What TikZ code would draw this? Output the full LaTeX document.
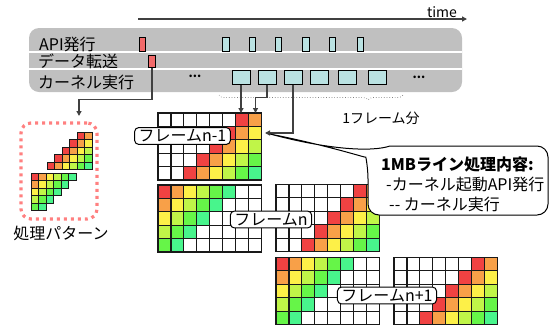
\documentclass[tikz,border=0pt]{standalone}
\usepackage{fontspec}
\setmainfont{Noto Sans CJK JP}
\usetikzlibrary{arrows.meta,decorations.pathreplacing}
\definecolor{c0}{RGB}{240,66,66}
\definecolor{c1}{RGB}{248,160,72}
\definecolor{c2}{RGB}{253,240,72}
\definecolor{c3}{RGB}{192,245,72}
\definecolor{c4}{RGB}{102,245,72}
\definecolor{c5}{RGB}{72,245,140}
\definecolor{tlgray}{RGB}{192,192,192}
\definecolor{kcyan}{RGB}{186,226,226}
\definecolor{kred}{RGB}{242,106,106}
\definecolor{patpink}{RGB}{255,128,128}
\definecolor{lineg}{RGB}{64,64,64}
\def\cw{12.95}
\def\ch{13.4}
\newcommand\biggrid[3]{%
  \foreach \r in {0,...,4}{\foreach \c in {0,...,7}{%
    \pgfmathtruncatemacro\k{\c+\r+#3}%
    \ifnum\k<0 \def\cc{white}\else\ifnum\k>5 \def\cc{white}\else\edef\cc{c\k}\fi\fi
    \filldraw[bigcell, fill=\cc] ({#1+\c*\cw},{#2+\r*\ch}) rectangle ++(\cw,\ch);
  }}%
  \draw[gridouter] (#1,#2) rectangle ++({8*\cw},{5*\ch});
}
\begin{document}
\begin{tikzpicture}[x=1pt,y=-1pt,
  font=\fontsize{16}{19}\selectfont,
  bigcell/.style={draw=black!90, line width=1.1pt},
  gridouter/.style={draw=black!90, line width=1.6pt},
  minicell/.style={draw=black!90, line width=0.9pt},
  rbox/.style={draw=black, line width=1pt, fill=kred, minimum width=6.5pt, minimum height=14pt, inner sep=0pt},
  abox/.style={draw=black, line width=1pt, fill=kcyan, minimum width=6.5pt, minimum height=14pt, inner sep=0pt},
  kbox/.style={draw=black, line width=1pt, fill=kcyan, minimum width=18pt, minimum height=14pt, inner sep=0pt},
  conn/.style={draw=lineg, line width=1.3pt, -{Triangle[length=5pt,width=5pt]}},
  flabel/.style={draw=black, line width=1pt, fill=white, rounded corners=4pt, inner xsep=4pt, inner ysep=2pt},
  rowlbl/.style={anchor=west, inner sep=0pt},
  dotslbl/.style={font=\fontsize{12}{12}\selectfont\bfseries, inner sep=0pt}
]
\useasboundingbox (0,0) rectangle (553,325);

% time arrow
\coordinate (ts) at (138,19);
\coordinate (te) at (467,19);
\draw[draw=lineg, line width=1.2pt, -{Triangle[length=5pt,width=5pt]}] (ts) -- (te);
\node[font=\fontsize{14}{14}\selectfont, inner sep=0pt] (timelbl) at (442,12) {time};

% timeline background
\fill[tlgray, rounded corners=10pt] (29,28) rectangle (462,92);
\draw[white, line width=1.6pt] (29,52) -- (462,52);
\draw[white, line width=1.6pt] (29,69) -- (462,69);

\node[rowlbl] (lapi) at (39,44) {API発行};
\node[rowlbl] (ldata) at (38,61) {データ転送};
\node[rowlbl] (lkern) at (38,82) {カーネル実行};

\node[rbox] (a0) at (142.5,44) {};
\node[rbox, minimum height=12pt] (d0) at (152,61) {};

\node[abox] (a1) at (226,44) {};
\node[abox] (a2) at (252.5,44) {};
\node[abox] (a3) at (278.5,44) {};
\node[abox] (a4) at (306,44) {};
\node[abox] (a5) at (332.5,44) {};
\node[abox] (a6) at (360.5,44) {};

\node[kbox] (k1) at (241,77) {};
\node[kbox] (k2) at (267,77) {};
\node[kbox] (k3) at (293,77) {};
\node[kbox] (k4) at (319.5,77) {};
\node[kbox] (k5) at (347.5,77) {};
\node[kbox] (k6) at (377,77) {};

\node[dotslbl] (dl) at (195,76) {...};
\node[dotslbl] (dr) at (419,77) {...};

% brace
\coordinate (bl) at (219,95);
\coordinate (br) at (403,95);
\draw[decorate, decoration={brace, mirror, amplitude=5pt, aspect=0.81}, dotted, gray, line width=0.7pt] (bl) -- (br);
\node[font=\fontsize{14}{14}\selectfont, inner sep=0pt] (oneframe) at (381,118) {1フレーム分};

% processing pattern box
\node[draw=patpink, line width=3.2pt, dash pattern=on 3pt off 4pt, rounded corners=10pt, minimum width=76pt, minimum height=96pt, inner sep=0pt] (pat) at (59,171) {};
\foreach \r in {0,...,4}{%
  \pgfmathtruncatemacro\kmax{\r+1}%
  \foreach \k in {0,...,\kmax}{%
    \pgfmathtruncatemacro\mc{4-\r+\k}%
    \filldraw[minicell, fill=c\k] ({47+\mc*7.5},{132+\r*7.5}) rectangle ++(7.5,7.5);
  }}
\foreach \r in {0,...,4}{%
  \pgfmathtruncatemacro\cmax{5-\r}%
  \foreach \c in {0,...,\cmax}{%
    \pgfmathtruncatemacro\k{\c+\r}%
    \filldraw[minicell, fill=c\k] ({31+\c*7.5},{173+\r*7.5}) rectangle ++(7.5,7.5);
  }}
\node[inner sep=0pt] (patlbl) at (61,233) {処理パターン};

% frame grids
\biggrid{158}{113}{-6}
\biggrid{158}{185}{0}
\biggrid{276}{184.5}{-6}
\biggrid{276}{257.5}{0}
\biggrid{394}{257.5}{-6}

% connectors
\coordinate (tA) at (241,113);
\coordinate (tB) at (255.5,113);
\coordinate (tC) at (265,133);
\coordinate (tP) at (79,116);
\draw[conn] (k1.south) -- (tA);
\draw[conn] (k2.south) -- ++(0,13) -| (tB);
\draw[conn] (k3.south) |- (tC);
\draw[conn] (d0.south) -- ++(0,32) -| (tP);

% frame labels
\node[flabel] (fl1) at (182.5,136) {フレームn-1};
\node[flabel] (fl2) at (271,219.5) {フレームn};
\node[flabel] (fl3) at (387,295.5) {フレームn+1};

% callout bubble
\draw[line width=1pt, fill=white] (270,134) .. controls (330,150) and (372,152) .. (390,146)
  [rounded corners=11pt] -- (548,146) -- (548,215) -- (368,215) -- (368,168)
  [sharp corners] .. controls (366,158) and (330,146) .. (270,134) -- cycle;
\node[anchor=west, inner sep=0pt, font=\fontsize{16}{19}\selectfont\bfseries] (b1) at (381,164) {1MBライン処理内容:};
\node[anchor=west, inner sep=0pt] (b2) at (386,184) {-カーネル起動API発行};
\node[anchor=west, inner sep=0pt] (b3) at (389,204) {-{}- カーネル実行};
\end{tikzpicture}
\end{document}
